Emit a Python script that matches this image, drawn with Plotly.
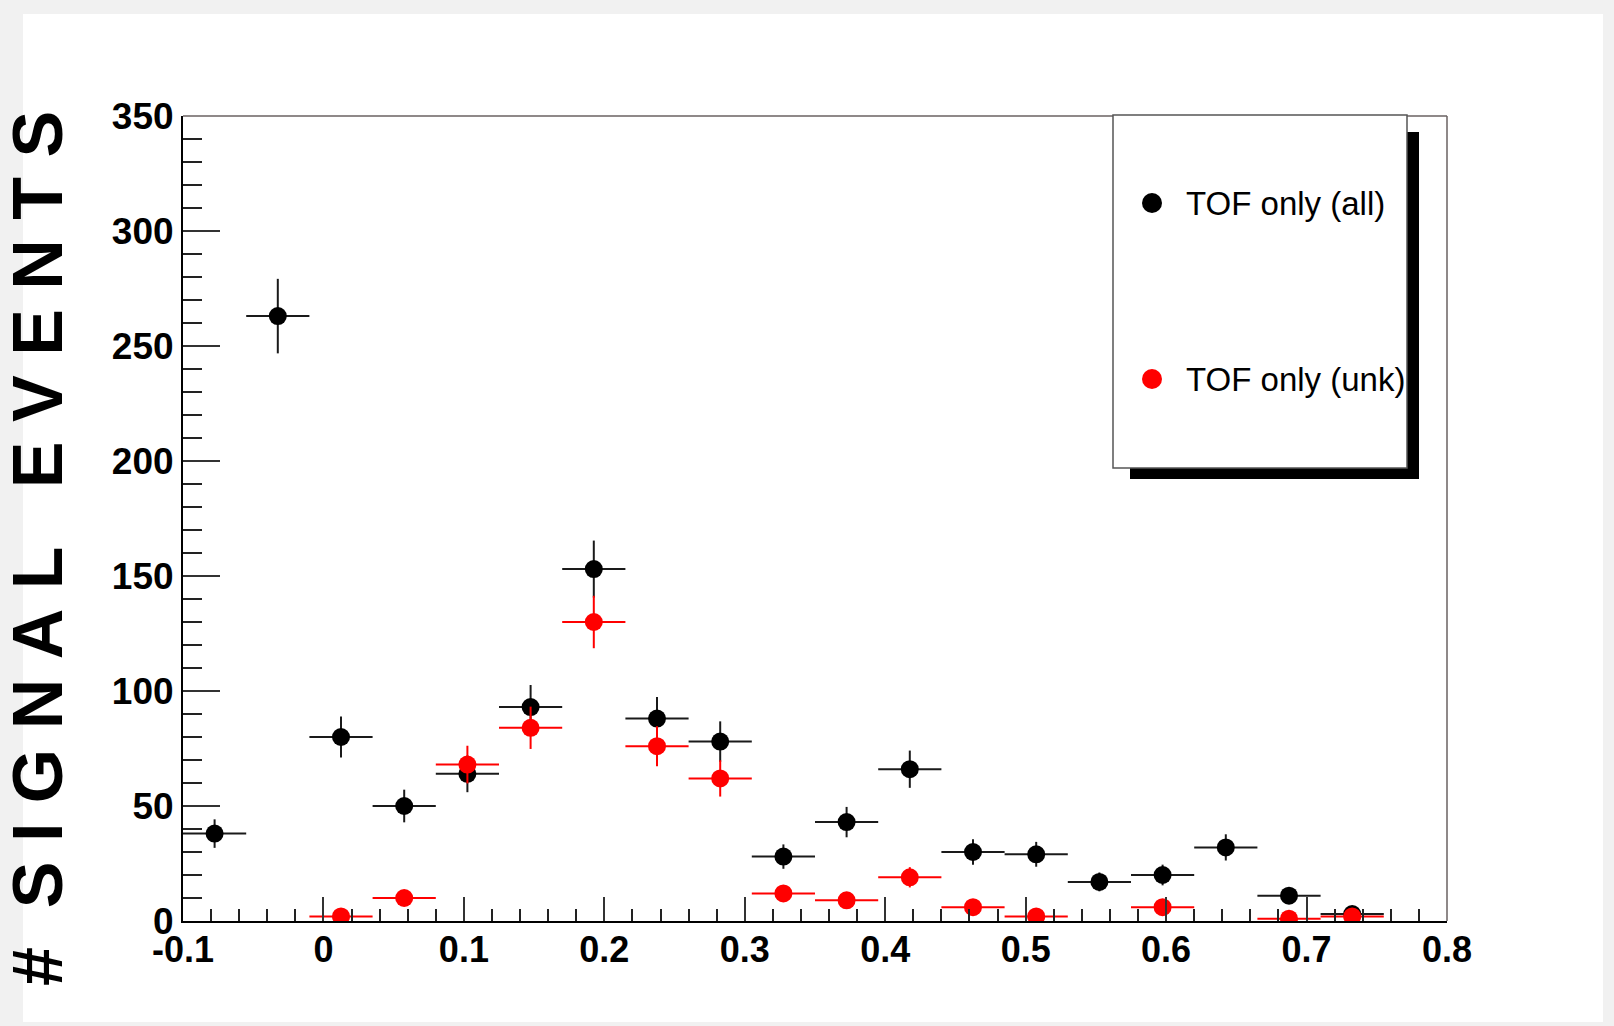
import plotly.graph_objects as go

# ---------------- data ----------------
BIN_CENTERS_ALL = [-0.0775, -0.0325, 0.0125, 0.0575, 0.1025, 0.1475, 0.1925, 0.2375,
                   0.2825, 0.3275, 0.3725, 0.4175, 0.4625, 0.5075, 0.5525, 0.5975,
                   0.6425, 0.6875, 0.7325]
COUNTS_ALL = [38, 263, 80, 50, 64, 93, 153, 88, 78, 28, 43, 66, 30, 29, 17, 20, 32, 11, 3]
ERR_ALL = [6.2, 16.2, 8.9, 7.1, 8.0, 9.6, 12.4, 9.4, 8.8, 5.3, 6.6, 8.1, 5.5, 5.4, 4.1,
           4.5, 5.7, 3.3, 1.7]

BIN_CENTERS_UNK = [0.0125, 0.0575, 0.1025, 0.1475, 0.1925, 0.2375, 0.2825, 0.3275,
                   0.3725, 0.4175, 0.4625, 0.5075, 0.5975, 0.6875, 0.7325]
COUNTS_UNK = [2, 10, 68, 84, 130, 76, 62, 12, 9, 19, 6, 2, 6, 1, 2]
ERR_UNK = [1.4, 3.2, 8.2, 9.2, 11.4, 8.7, 7.9, 3.5, 3.0, 4.4, 2.4, 1.4, 2.4, 1.0, 1.4]

BIN_HALF_WIDTH = 0.0225

SERIES_NAMES = ["TOF only (all)", "TOF only (unk)"]
X_TICK_VALS = [-0.1, 0, 0.1, 0.2, 0.3, 0.4, 0.5, 0.6, 0.7, 0.8]
X_TICK_TEXT = ["-0.1", "0", "0.1", "0.2", "0.3", "0.4", "0.5", "0.6", "0.7", "0.8"]
Y_TICK_VALS = [0, 50, 100, 150, 200, 250, 300, 350]
Y_TICK_TEXT = ["0", "50", "100", "150", "200", "250", "300", "350"]
Y_TITLE = "#\u00a0\u00a0S\u00a0I\u00a0G\u00a0N\u00a0A\u00a0L\u00a0\u00a0\u00a0E\u00a0V\u00a0E\u00a0N\u00a0T\u00a0S"

# ---------------- layout geometry ----------------
W, H = 1614, 1026
PL, PR, PT, PB = 183, 1447, 116, 921


def px(xp):
    return (xp - PL) / (PR - PL)


def py(yp):
    return (PB - yp) / (PB - PT)


FONT = "Liberation Sans, Arial, sans-serif"

fig = go.Figure()

fig.add_trace(go.Scatter(
    x=BIN_CENTERS_ALL, y=COUNTS_ALL, mode="markers", name=SERIES_NAMES[0],
    marker=dict(color="black", size=18, symbol="circle"),
    error_y=dict(type="data", array=ERR_ALL, visible=True, color="#1a1a1a",
                 thickness=2, width=0),
    error_x=dict(type="constant", value=BIN_HALF_WIDTH, visible=True, color="#1a1a1a",
                 thickness=2, width=0),
    showlegend=False,
))
fig.add_trace(go.Scatter(
    x=BIN_CENTERS_UNK, y=COUNTS_UNK, mode="markers", name=SERIES_NAMES[1],
    marker=dict(color="#ff0000", size=18, symbol="circle"),
    error_y=dict(type="data", array=ERR_UNK, visible=True, color="#ff0000",
                 thickness=2, width=0),
    error_x=dict(type="constant", value=BIN_HALF_WIDTH, visible=True, color="#ff0000",
                 thickness=2, width=0),
    showlegend=False,
))

shapes = [
    # white canvas inside gray border
    dict(type="rect", xref="paper", yref="paper", layer="below",
         x0=px(23), x1=px(1603), y0=py(1022), y1=py(14),
         fillcolor="white", line=dict(width=0)),
    # top and right frame lines
    dict(type="line", xref="paper", yref="paper", x0=0, x1=1, y0=1, y1=1,
         line=dict(color="#6a6262", width=1.5)),
    dict(type="line", xref="paper", yref="paper", x0=1, x1=1, y0=0, y1=1,
         line=dict(color="#6a6262", width=1.5)),
    # legend shadow
    dict(type="rect", xref="paper", yref="paper",
         x0=px(1130), x1=px(1419), y0=py(479), y1=py(132),
         fillcolor="black", line=dict(width=0)),
    # legend box
    dict(type="rect", xref="paper", yref="paper",
         x0=px(1113), x1=px(1407), y0=py(468), y1=py(115),
         fillcolor="white", line=dict(color="#555555", width=1.5)),
]
# legend markers
for cy, col in [(203, "black"), (379, "#ff0000")]:
    shapes.append(dict(type="circle", xref="paper", yref="paper",
                       x0=px(1142), x1=px(1162), y0=py(cy + 10), y1=py(cy - 10),
                       fillcolor=col, line=dict(width=0)))

annotations = [
    dict(text=Y_TITLE, xref="paper", yref="paper", x=px(38), y=py(549),
         xanchor="center", yanchor="middle", textangle=-90, showarrow=False,
         font=dict(family=FONT, size=70, color="black", weight="bold")),
]
for cy, name in [(203, SERIES_NAMES[0]), (379, SERIES_NAMES[1])]:
    annotations.append(dict(text=name, xref="paper", yref="paper", x=px(1184), y=py(cy),
                            xanchor="left", yanchor="middle", showarrow=False,
                            font=dict(family=FONT, size=33, color="black")))

fig.update_layout(
    width=W, height=H,
    margin=dict(l=PL, r=W - PR, t=PT, b=H - PB, pad=0),
    paper_bgcolor="#f1f1f1",
    plot_bgcolor="white",
    shapes=shapes,
    annotations=annotations,
    showlegend=False,
    xaxis=dict(
        range=[-0.1, 0.8], tickvals=X_TICK_VALS, ticktext=X_TICK_TEXT,
        ticks="inside", ticklen=24, tickwidth=2, tickcolor="#333333",
        minor=dict(ticks="inside", dtick=0.02, tick0=0, ticklen=12, tickwidth=2,
                   tickcolor="#222222", showgrid=False),
        showline=True, linecolor="black", linewidth=2, mirror=False,
        showgrid=False, zeroline=False,
        tickfont=dict(family=FONT, size=36, color="black", weight="bold"),
        ticklabelstandoff=-4,
    ),
    yaxis=dict(
        range=[0, 350], tickvals=Y_TICK_VALS, ticktext=Y_TICK_TEXT,
        ticks="inside", ticklen=37, tickwidth=2, tickcolor="#333333",
        minor=dict(ticks="inside", dtick=10, tick0=0, ticklen=19, tickwidth=2,
                   tickcolor="#222222", showgrid=False),
        showline=True, linecolor="black", linewidth=2, mirror=False,
        showgrid=False, zeroline=False,
        tickfont=dict(family=FONT, size=37, color="black", weight="bold"),
        ticklabelstandoff=0,
    ),
)

fig.write_html("out.html", config={"displayModeBar": False},
               post_script="document.body.style.margin='0px';")
